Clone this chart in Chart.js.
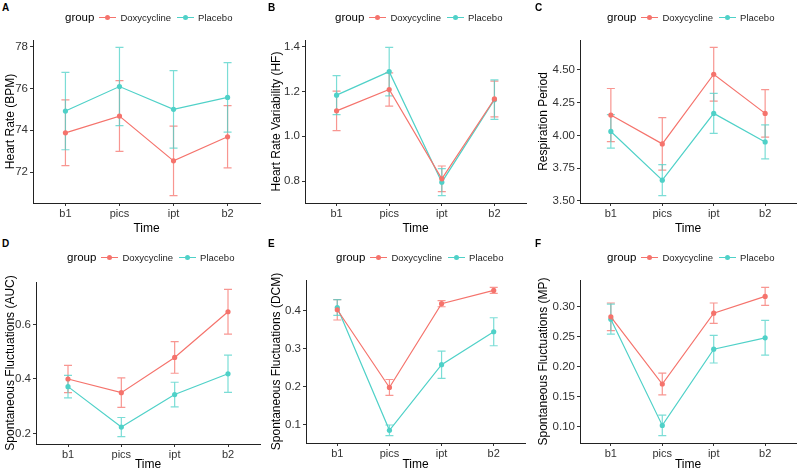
<!DOCTYPE html>
<html>
<head>
<meta charset="utf-8">
<script src="https://cdn.jsdelivr.net/npm/chart.js@4.4.0/dist/chart.umd.min.js"></script>
<style>
  body { margin: 0; background: #fff; }
  #wrap { position: relative; width: 800px; height: 472px; font-family: "Liberation Sans", Arial, sans-serif; }
  .panel { position: absolute; }
  .tag { position: absolute; font-weight: bold; font-size: 10px; color: #000; }
  .legend { position: absolute; display: flex; align-items: center; white-space: nowrap; color: #000; }
  .legend .ttl { font-size: 11.5px; margin-right: 5px; }
  .legend .item { display: flex; align-items: center; font-size: 9.5px; margin-right: 6px; color: #222; }
  .legend .mk { position: relative; width: 17px; height: 10px; margin-right: 4px; }
  .legend .mk .ln { position: absolute; left: 0; right: 0; top: 5px; height: 1px; }
  .legend .mk .dt { position: absolute; left: 6px; top: 2.5px; width: 5px; height: 5px; border-radius: 50%; }
</style>
</head>
<body>
<div id="wrap"></div>
<script>
var times = ["b1", "pics", "ipt", "b2"];
var groups = ["Doxycycline", "Placebo"];
var colors = ["#F5736C", "#4FD1C8"];

// A: heart rate
var hrDox = [73.88, 74.68, 72.54, 73.69];
var hrDoxSe = [1.57, 1.69, 1.66, 1.49];
var hrPla = [74.92, 76.09, 75.00, 75.57];
var hrPlaSe = [1.85, 1.87, 1.85, 1.66];
var hrTicks = [72, 74, 76, 78];

// B: heart rate variability
var hrvDox = [1.113, 1.208, 0.810, 1.166];
var hrvDoxSe = [0.088, 0.074, 0.057, 0.080];
var hrvPla = [1.183, 1.288, 0.795, 1.163];
var hrvPlaSe = [0.087, 0.108, 0.060, 0.088];
var hrvTicks = [0.8, 1.0, 1.2, 1.4];

// C: respiration period
var respDox = [4.155, 3.935, 4.467, 4.168];
var respDoxSe = [0.203, 0.200, 0.205, 0.182];
var respPla = [4.03, 3.658, 4.168, 3.95];
var respPlaSe = [0.128, 0.118, 0.153, 0.130];
var respTicks = [3.5, 3.75, 4.0, 4.25, 4.5];

// D: spontaneous fluctuations (AUC)
var aucDox = [0.400, 0.350, 0.479, 0.646];
var aucDoxSe = [0.050, 0.054, 0.058, 0.082];
var aucPla = [0.372, 0.224, 0.343, 0.419];
var aucPlaSe = [0.041, 0.035, 0.045, 0.068];
var aucTicks = [0.2, 0.4, 0.6];

// E: spontaneous fluctuations (DCM)
var dcmDox = [0.403, 0.198, 0.419, 0.454];
var dcmDoxSe = [0.027, 0.021, 0.008, 0.008];
var dcmPla = [0.409, 0.085, 0.258, 0.345];
var dcmPlaSe = [0.021, 0.014, 0.036, 0.037];
var dcmTicks = [0.1, 0.2, 0.3, 0.4];

// F: spontaneous fluctuations (MP)
var mpDox = [0.283, 0.171, 0.289, 0.317];
var mpDoxSe = [0.023, 0.018, 0.017, 0.015];
var mpPla = [0.279, 0.102, 0.229, 0.248];
var mpPlaSe = [0.025, 0.017, 0.023, 0.029];
var mpTicks = [0.10, 0.15, 0.20, 0.25, 0.30];

var panels = [
  { tag: "A", title: "Heart Rate (BPM)", dox: hrDox, doxSe: hrDoxSe, pla: hrPla, plaSe: hrPlaSe, ticks: hrTicks, dec: 0,
    box: [0, 0, 266, 236], plot: [33, 40, 260, 203], leg: [65, 11] },
  { tag: "B", title: "Heart Rate Variability (HF)", dox: hrvDox, doxSe: hrvDoxSe, pla: hrvPla, plaSe: hrvPlaSe, ticks: hrvTicks, dec: 1,
    box: [266, 0, 267, 236], plot: [305, 40, 526, 203], leg: [335, 11] },
  { tag: "C", title: "Respiration Period", dox: respDox, doxSe: respDoxSe, pla: respPla, plaSe: respPlaSe, ticks: respTicks, dec: 2,
    box: [533, 0, 267, 236], plot: [580, 40, 797, 203], leg: [607, 11] },
  { tag: "D", title: "Spontaneous Fluctuations (AUC)", dox: aucDox, doxSe: aucDoxSe, pla: aucPla, plaSe: aucPlaSe, ticks: aucTicks, dec: 1,
    box: [0, 236, 266, 236], plot: [36, 282, 260, 444], leg: [67, 251] },
  { tag: "E", title: "Spontaneous Fluctuations (DCM)", dox: dcmDox, doxSe: dcmDoxSe, pla: dcmPla, plaSe: dcmPlaSe, ticks: dcmTicks, dec: 1,
    box: [266, 236, 267, 236], plot: [306, 280, 525, 443], leg: [336, 251] },
  { tag: "F", title: "Spontaneous Fluctuations (MP)", dox: mpDox, doxSe: mpDoxSe, pla: mpPla, plaSe: mpPlaSe, ticks: mpTicks, dec: 2,
    box: [533, 236, 267, 236], plot: [580, 280, 797, 443], leg: [607, 251] }
];

function withAlpha(hex, a) {
  var r = parseInt(hex.slice(1, 3), 16), g = parseInt(hex.slice(3, 5), 16), b = parseInt(hex.slice(5, 7), 16);
  return "rgba(" + r + "," + g + "," + b + "," + a + ")";
}

// draws mean +/- se bars under the lines
var errorBars = {
  id: "errorBars",
  beforeDatasetsDraw: function (chart) {
    var ctx = chart.ctx, xs = chart.scales.x, ys = chart.scales.y;
    chart.data.datasets.forEach(function (ds) {
      ctx.save();
      ctx.strokeStyle = withAlpha(ds.borderColor, 0.75);
      ctx.lineWidth = 1.2;
      ds.data.forEach(function (pt, i) {
        var x = xs.getPixelForValue(pt.x);
        var yt = ys.getPixelForValue(pt.y + ds.se[i]);
        var yb = ys.getPixelForValue(pt.y - ds.se[i]);
        ctx.beginPath();
        ctx.moveTo(x, yt); ctx.lineTo(x, yb);
        ctx.moveTo(x - 4, yt); ctx.lineTo(x + 4, yt);
        ctx.moveTo(x - 4, yb); ctx.lineTo(x + 4, yb);
        ctx.stroke();
      });
      ctx.restore();
    });
  }
};

var wrap = document.getElementById("wrap");

panels.forEach(function (p) {
  var bx = p.box[0], by = p.box[1], bw = p.box[2], bh = p.box[3];

  var tag = document.createElement("div");
  tag.className = "tag";
  tag.style.left = (bx + 2) + "px";
  tag.style.top = (by + 2) + "px";
  tag.textContent = p.tag;
  wrap.appendChild(tag);

  var div = document.createElement("div");
  div.className = "panel";
  div.style.left = bx + "px";
  div.style.top = by + "px";
  var cv = document.createElement("canvas");
  cv.width = bw; cv.height = bh;
  cv.style.width = bw + "px"; cv.style.height = bh + "px";
  div.appendChild(cv);
  wrap.appendChild(div);

  var lo = Infinity, hi = -Infinity;
  [[p.dox, p.doxSe], [p.pla, p.plaSe]].forEach(function (s) {
    s[0].forEach(function (v, i) {
      lo = Math.min(lo, v - s[1][i]);
      hi = Math.max(hi, v + s[1][i]);
    });
  });
  var pad = (hi - lo) * 0.05;

  var leftW = p.plot[0] - bx;
  var bottomH = by + bh - p.plot[3];

  new Chart(cv, {
    type: "line",
    data: {
      datasets: [
        { label: groups[0], data: p.dox, se: p.doxSe, color: colors[0] },
        { label: groups[1], data: p.pla, se: p.plaSe, color: colors[1] }
      ].map(function (d) {
        return {
          label: d.label,
          se: d.se,
          data: d.data.map(function (v, i) { return { x: i + 1, y: v }; }),
          borderColor: d.color,
          backgroundColor: d.color,
          borderWidth: 1.2,
          pointRadius: 2.6,
          pointBorderWidth: 0,
          tension: 0
        };
      })
    },
    options: {
      responsive: false,
      animation: false,
      events: [],
      layout: { padding: { left: 0, top: p.plot[1] - by, right: bx + bw - p.plot[2], bottom: 0 } },
      plugins: { legend: { display: false }, tooltip: { enabled: false } },
      scales: {
        x: {
          type: "linear",
          min: 0.4, max: 4.6,
          afterBuildTicks: function (s) { s.ticks = times.map(function (t, i) { return { value: i + 1 }; }); },
          afterFit: function (s) { s.height = bottomH; },
          ticks: {
            callback: function (v) { return times[v - 1]; },
            color: "#333", font: { family: "Liberation Sans", size: 11 }, padding: 1, maxRotation: 0
          },
          grid: { display: true, drawOnChartArea: false, drawTicks: true, tickLength: 3, color: "#333" },
          border: { display: true, color: "#222", width: 1 },
          title: { display: true, text: "Time", color: "#000", font: { family: "Liberation Sans", size: 12 }, padding: { top: 0, bottom: 0 } }
        },
        y: {
          type: "linear",
          min: lo - pad, max: hi + pad,
          afterBuildTicks: function (s) { s.ticks = p.ticks.map(function (v) { return { value: v }; }); },
          afterFit: function (s) { s.width = leftW; },
          ticks: {
            callback: function (v) { return Number(v).toFixed(p.dec); },
            color: "#333", font: { family: "Liberation Sans", size: 11.5 }, padding: 2
          },
          grid: { display: true, drawOnChartArea: false, drawTicks: true, tickLength: 3, color: "#333" },
          border: { display: true, color: "#222", width: 1 },
          title: { display: true, text: p.title, color: "#000", font: { family: "Liberation Sans", size: 12 }, padding: { top: 3, bottom: 0 } }
        }
      }
    },
    plugins: [errorBars]
  });

  var leg = document.createElement("div");
  leg.className = "legend";
  leg.style.left = p.leg[0] + "px";
  leg.style.top = p.leg[1] + "px";
  var html = '<span class="ttl">group</span>';
  groups.forEach(function (g, i) {
    html += '<span class="item"><span class="mk"><span class="ln" style="background:' + colors[i] +
      '"></span><span class="dt" style="background:' + colors[i] + '"></span></span>' + g + '</span>';
  });
  leg.innerHTML = html;
  wrap.appendChild(leg);
});
</script>
</body>
</html>
